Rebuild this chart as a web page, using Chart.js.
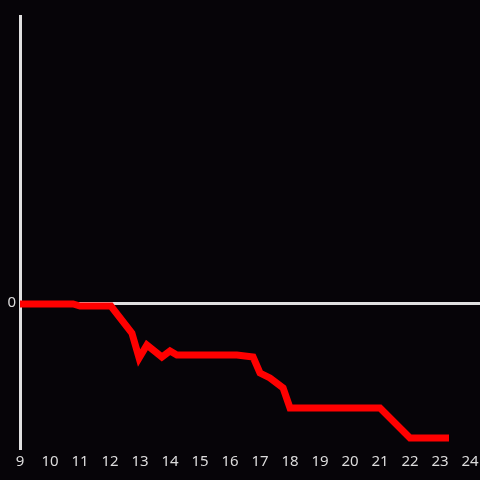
<!DOCTYPE html>
<html>
<head>
<meta charset="utf-8">
<script src="https://cdn.jsdelivr.net/npm/chart.js@4/dist/chart.umd.min.js"></script>
<style>
    html, body { margin: 0; padding: 0; background: #060408; }
    #wrap { width: 480px; height: 480px; }
</style>
</head>
<body>
<div id="wrap"><canvas id="grafico"></canvas></div>
<script>
// horas del dia (eje x) y valores
const horas = [9.0, 10.77, 11.0, 12.03, 12.73, 12.97, 13.23, 13.73, 14.0, 14.23,
    16.23, 16.77, 17.0, 17.33, 17.77, 18.0, 21.0, 22.0, 23.3];
const valores = [-1, -1, -3, -3, -30, -55, -42, -54, -48, -52,
    -52, -54, -70, -75, -85, -105, -105, -135, -135];
const ticksX = [9, 10, 11, 12, 13, 14, 15, 16, 17, 18, 19, 20, 21, 22, 23, 24];
const ticksY = [0];

const COLORES = {
    FONDO: '#060408',
    LINEA: '#ff0000',
    EJE: '#e0e0e0',
    TEXTO: '#dcdcdc'
};

const fondo = {
    id: 'fondo',
    beforeDraw(chart) {
        const ctx = chart.ctx;
        ctx.save();
        ctx.fillStyle = COLORES.FONDO;
        ctx.fillRect(0, 0, chart.width, chart.height);
        ctx.restore();
    }
};

const puntos = horas.map((h, i) => ({ x: h, y: valores[i] }));

new Chart(document.getElementById('grafico').getContext('2d'), {
    type: 'line',
    data: {
        datasets: [{
            data: puntos,
            borderColor: COLORES.LINEA,
            borderWidth: 7,
            pointRadius: 0,
            tension: 0,
            fill: false
        }]
    },
    options: {
        responsive: true,
        maintainAspectRatio: false,
        animation: false,
        layout: { padding: { top: 16, left: 0, right: 0, bottom: 0 } },
        plugins: {
            legend: { display: false },
            tooltip: { enabled: false }
        },
        scales: {
            x: {
                type: 'linear',
                min: 9,
                max: 24.333,
                afterBuildTicks: s => { s.ticks = ticksX.map(v => ({ value: v })); },
                afterFit: s => {
                    s.height = 32;
                    s.paddingLeft = 0;
                    s.paddingRight = 0;
                },
                grid: { display: false, drawTicks: false },
                border: { display: false },
                ticks: {
                    color: COLORES.TEXTO,
                    padding: 5,
                    maxRotation: 0,
                    autoSkip: false,
                    font: { family: 'Noto Sans', size: 15 }
                }
            },
            y: {
                min: -145,
                max: 287,
                afterBuildTicks: s => { s.ticks = ticksY.map(v => ({ value: v })); },
                afterFit: s => { s.width = 20; },
                grid: { color: COLORES.EJE, lineWidth: 3, drawTicks: false },
                border: { display: true, color: COLORES.EJE, width: 3 },
                ticks: {
                    color: COLORES.TEXTO,
                    padding: 4,
                    font: { family: 'Noto Sans', size: 15 }
                }
            }
        }
    },
    plugins: [fondo]
});
</script>
</body>
</html>
